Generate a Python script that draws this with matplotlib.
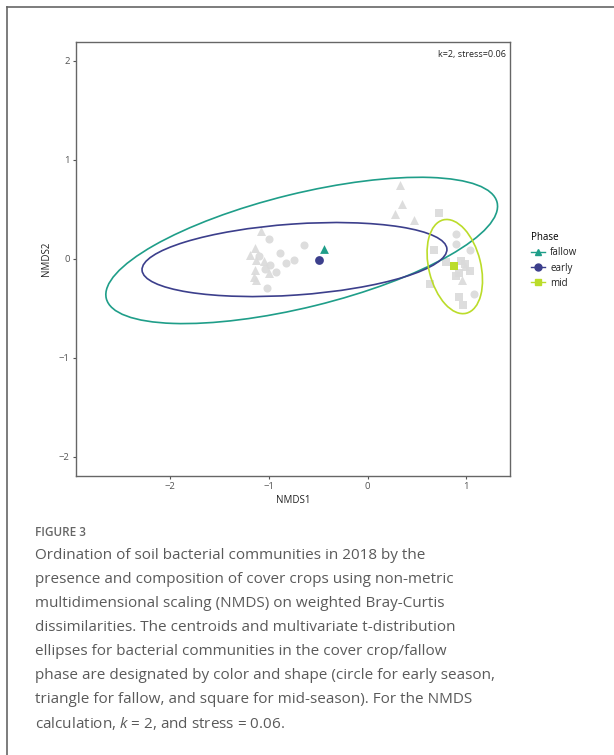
import matplotlib.pyplot as plt
import numpy as np
from matplotlib.patches import Ellipse
from matplotlib.lines import Line2D

plt.rcParams['font.family'] = ['Open Sans', 'DejaVu Sans']
plt.rcParams['mathtext.fontset'] = 'custom'
plt.rcParams['mathtext.it'] = 'Open Sans:italic'
plt.rcParams['mathtext.rm'] = 'Open Sans'

# NMDS site scores, one array pair per phase
fallow_x = [-1.076, -1.140, -1.194, -1.130, -1.053, -1.144, -1.002, -1.154, -1.127,
            0.331, 0.348, 0.280, 0.470, 0.989, 0.955]
fallow_y = [0.279, 0.114, 0.043, -0.007, -0.024, -0.108, -0.142, -0.182, -0.209,
            0.751, 0.559, 0.455, 0.390, -0.075, -0.209]
early_x = [-0.995, -0.891, -0.648, -1.096, -0.992, -0.830, -0.745, -1.035, -0.931,
           -1.022, 0.891, 0.898, 1.080, 1.039]
early_y = [0.205, 0.057, 0.138, 0.033, -0.058, -0.040, -0.010, -0.101, -0.131,
           -0.293, 0.253, 0.155, -0.351, 0.094]
mid_x = [0.723, 0.668, 0.797, 0.945, 0.982, 1.039, 0.895, 0.921, 0.628, 0.928, 0.966]
mid_y = [0.465, 0.094, -0.034, -0.024, -0.048, -0.125, -0.176, -0.142, -0.250,
         -0.388, -0.462]

# group centroids
phases = ['fallow', 'early', 'mid']
cent_x = [-0.44, -0.49, 0.87]
cent_y = [0.10, -0.015, -0.075]

# t-distribution ellipses: centre x, centre y, semi-major, semi-minor, angle (deg)
ell_cx = [-0.667, -0.740, 0.883]
ell_cy = [0.085, -0.007, -0.078]
ell_a = [2.037, 1.547, 0.486]
ell_b = [0.574, 0.359, 0.263]
ell_ang = [13.8, 4.0, 103.9]

colors = ['#1f9e89', '#3c3f8c', '#bbdc2a']
markers = ['^', 'o', 's']

caption = [
    "Ordination of soil bacterial communities in 2018 by the",
    "presence and composition of cover crops using non-metric",
    "multidimensional scaling (NMDS) on weighted Bray-Curtis",
    "dissimilarities. The centroids and multivariate t-distribution",
    "ellipses for bacterial communities in the cover crop/fallow",
    "phase are designated by color and shape (circle for early season,",
    "triangle for fallow, and square for mid-season). For the NMDS",
    "calculation, $k$ = 2, and stress = 0.06.",
]

W, H = 614, 755
fig = plt.figure(figsize=(W / 100, H / 100), dpi=100)
ax = fig.add_axes([76 / W, 1 - 475.7 / H, 434 / W, 434 / H])

gray = '#dadada'
sizes = [42, 34, 34]
for xs, ys, m, s in zip([fallow_x, early_x, mid_x], [fallow_y, early_y, mid_y], markers, sizes):
    ax.scatter(xs, ys, marker=m, s=s, color=gray, alpha=0.9, linewidths=0, zorder=2)

for i in range(3):
    e = Ellipse((ell_cx[i], ell_cy[i]), 2 * ell_a[i], 2 * ell_b[i], angle=ell_ang[i],
                fill=False, edgecolor=colors[i], linewidth=1.2, zorder=3)
    ax.add_patch(e)
    ax.scatter(cent_x[i], cent_y[i], marker=markers[i], s=40, color=colors[i],
               linewidths=0, zorder=4)

ax.set_xlim(-2.952, 1.442)
ax.set_ylim(-2.192, 2.195)
ax.set_xticks([-2, -1, 0, 1])
ax.set_yticks([-2, -1, 0, 1, 2])
ax.set_xticklabels(['\u22122', '\u22121', '0', '1'])
ax.set_yticklabels(['\u22122', '\u22121', '0', '1', '2'])
ax.tick_params(length=2.5, width=0.8, color='#555555', labelsize=6.8,
               labelcolor='#555555', pad=2)
for sp in ax.spines.values():
    sp.set_color('#666666')
    sp.set_linewidth(1.0)
ax.set_xlabel('NMDS1', fontsize=7, color='#222222', labelpad=3)
ax.set_ylabel('NMDS2', fontsize=7, color='#222222', labelpad=5)
ax.text(0.99, 0.98, 'k=2, stress=0.06', transform=ax.transAxes, ha='right', va='top',
        fontsize=6.5, color='#222222')

handles = [Line2D([], [], color=c, marker=m, markersize=5, linewidth=1.0)
           for c, m in zip(colors, markers)]
leg = fig.legend(handles, phases, title='Phase', loc='upper left',
                 bbox_to_anchor=(522 / W, 1 - 223 / H), frameon=False,
                 fontsize=7, title_fontsize=7, handlelength=1.5,
                 handletextpad=0.5, labelspacing=0.45, alignment='left')
for t in leg.get_texts():
    t.set_color('#222222')

# outer panel frame (top and left edges)
fig.add_artist(Line2D([7 / W, 1], [1 - 7 / H, 1 - 7 / H], color='#666666', linewidth=1.2))
fig.add_artist(Line2D([7 / W, 7 / W], [1 - 7 / H, 0], color='#666666', linewidth=1.2))

fig.text(35 / W, 1 - 532.7 / H, 'FIGURE 3', fontsize=8.5, color='#666666',
         va='center', ha='left', weight='semibold')
for k, line in enumerate(caption):
    fig.text(35 / W, 1 - (555.7 + 24 * k) / H, line, fontsize=11.0, color='#5a5a5a',
             va='center', ha='left')

fig.savefig('out.png', dpi=100)
